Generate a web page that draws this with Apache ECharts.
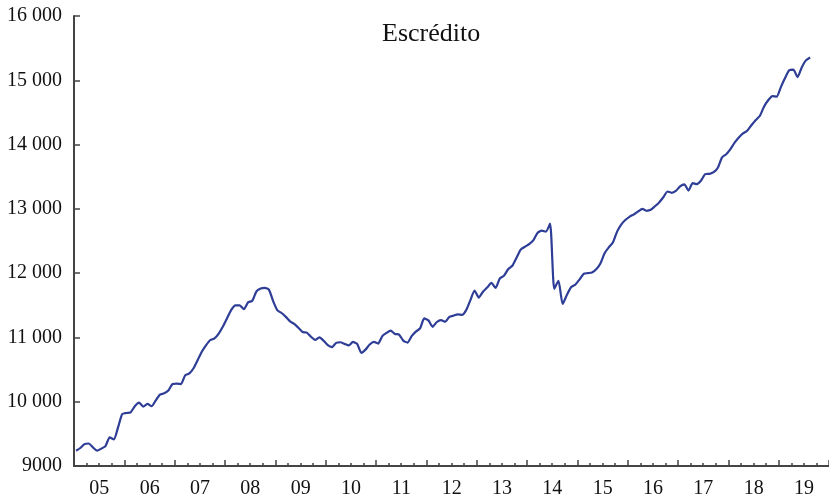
<!DOCTYPE html>
<html>
<head>
<meta charset="utf-8">
<script src="https://cdn.jsdelivr.net/npm/echarts@6/dist/echarts.min.js"></script>
<style>
  html, body { margin: 0; padding: 0; background: #fff; }
  #main { width: 829px; height: 500px; }
</style>
</head>
<body>
<div id="main"></div>
<script>
// serie mensual, desde enero 2005
const startYear = 2005;
const yearLabels = ['05', '06', '07', '08', '09', '10', '11', '12', '13', '14', '15', '16', '17', '18', '19'];
const escredito = [
  9238, 9280, 9340, 9350, 9290, 9240, 9270, 9310, 9445, 9415, 9600, 9808,
  9825, 9835, 9930, 9985, 9925, 9965, 9930, 10020, 10110, 10130, 10175, 10275,
  10280, 10275, 10410, 10440, 10520, 10650, 10780, 10880, 10960, 10985, 11060, 11170,
  11300, 11430, 11500, 11500, 11440, 11545, 11570, 11715, 11760, 11770, 11740, 11560,
  11420, 11380, 11320, 11250, 11210, 11150, 11085, 11075, 11010, 10960, 11000, 10950,
  10880, 10850, 10915, 10925, 10900, 10875, 10930, 10900, 10760, 10810, 10890, 10930,
  10905, 11020, 11070, 11105, 11055, 11045, 10950, 10920, 11020, 11090, 11140, 11295,
  11265, 11165, 11240, 11270, 11245, 11320, 11340, 11358, 11350, 11425, 11580, 11730,
  11620, 11710, 11775, 11850, 11770, 11915, 11960, 12060, 12115, 12240, 12365, 12410,
  12450, 12510, 12625, 12660, 12645, 12770, 11755, 11880, 11520, 11660, 11780, 11820,
  11900, 11990, 12000, 12010, 12060, 12150, 12310, 12400, 12480, 12650, 12760, 12830,
  12880, 12915, 12960, 13000, 12970, 12985, 13040, 13100, 13180, 13270, 13250, 13280,
  13350, 13380, 13285, 13400, 13385, 13440, 13540, 13545, 13570, 13640, 13800, 13850,
  13930, 14030, 14110, 14175, 14215, 14300, 14380, 14445, 14590, 14690, 14755, 14745,
  14890, 15030, 15155, 15165, 15050, 15200, 15310, 15355
];

let points = [];
for (let i = 0; i < escredito.length; i++) {
  points.push([startYear + (i + 0.5) / 12, escredito[i]]);
}

const font = 'Liberation Serif';
const axisColor = '#444';

let myChart = echarts.init(document.getElementById('main'));
let option = {
  animation: false,
  title: {
    text: 'Escrédito',
    left: 377,
    top: 16,
    textStyle: { fontFamily: font, fontSize: 26, fontWeight: 'normal', color: '#111' }
  },
  grid: { left: 74, right: -4, top: 16, bottom: 34 },
  xAxis: {
    type: 'value',
    min: 2005,
    max: 2020,
    interval: 1,
    axisLine: { show: true, lineStyle: { color: axisColor, width: 2 } },
    axisTick: { show: true, inside: true, length: 6, lineStyle: { color: axisColor, width: 1.5 } },
    minorTick: { show: true, splitNumber: 4, length: 3, lineStyle: { color: axisColor, width: 1.5 } },
    splitLine: { show: false },
    minorSplitLine: { show: false },
    axisLabel: {
      showMaxLabel: false,
      margin: 13,
      fontFamily: font,
      fontSize: 20,
      color: '#111',
      formatter: function (v) {
        let lab = yearLabels[Math.round(v) - startYear];
        return lab ? '{a|' + lab + '}' : '';
      },
      rich: {
        a: { fontFamily: font, fontSize: 20, color: '#111', padding: [0, 0, 0, 50.6] }
      }
    }
  },
  yAxis: {
    type: 'value',
    min: 9000,
    max: 16000,
    interval: 1000,
    axisLine: { show: true, lineStyle: { color: axisColor, width: 2 } },
    axisTick: { show: true, inside: true, length: 6, lineStyle: { color: axisColor, width: 1.5 } },
    splitLine: { show: false },
    axisLabel: {
      margin: 12,
      fontFamily: font,
      fontSize: 20,
      color: '#111',
      formatter: function (v) {
        if (v < 10000) return String(v);
        return Math.floor(v / 1000) + ' 000';
      }
    }
  },
  series: [
    {
      type: 'line',
      data: points,
      showSymbol: false,
      smooth: 0.2,
      lineStyle: { color: '#2e3d96', width: 2.2 },
      itemStyle: { color: '#2e3d96' }
    }
  ]
};
option && myChart.setOption(option);
</script>
</body>
</html>
